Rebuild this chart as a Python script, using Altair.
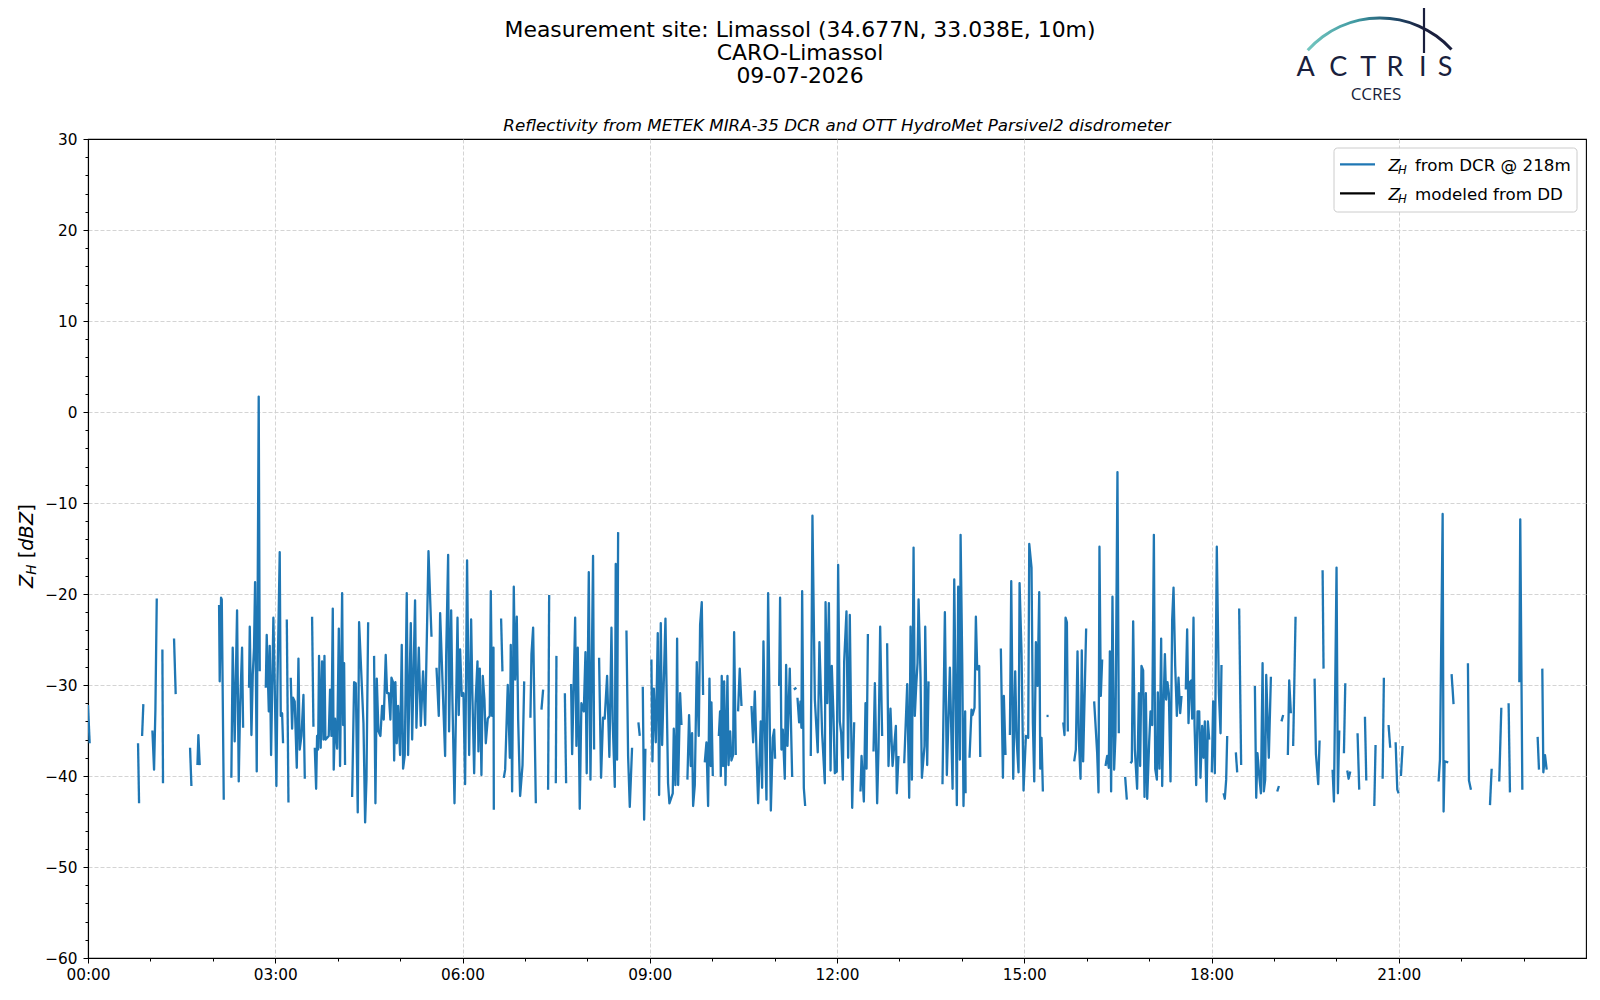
import altair as alt
import pandas as pd

# ---- data: (minutes after 00:00 UTC, Z_H in dBZ); None marks a gap in the record ----
block_00_04 = [
    (0.0, -32.2), (1.6, -36.4), None,
    (48.1, -36.4), (49.1, -43.0), None,
    (52.0, -35.6), (53.2, -32.1), None,
    (61.9, -35.0), (63.5, -39.3), (64.8, -32.7), (66.1, -20.5), None,
    (71.5, -26.1), (72.1, -40.8), None,
    (82.7, -24.9), (84.3, -31.0), None,
    (98.1, -36.9), (99.4, -41.1), None,
    (105.2, -38.8), (106.1, -35.5), (107.4, -38.8), None,
    (126.0, -21.2), (126.6, -29.6), (127.9, -20.4), (128.6, -20.6), (130.5, -42.6), None,
    (137.8, -40.2), (139.1, -25.9), (141.0, -36.2), (143.3, -21.8), (144.9, -40.6), (146.2, -32.5),
    (148.1, -25.9), (149.1, -34.7), None,
    (154.8, -30.3), (155.5, -23.6), (157.1, -35.5), (158.4, -28.8), (159.6, -25.9), (160.6, -18.7),
    (162.2, -39.5), (164.1, 1.7), (165.1, -28.5), None,
    (170.9, -30.3), (171.8, -24.5), (173.8, -32.9), (174.7, -25.7), (176.0, -37.7), (178.2, -22.6),
    (179.5, -30.0), (181.1, -41.1), (182.1, -30.0), (184.3, -15.4), (185.3, -33.4), (186.6, -33.1),
    (187.5, -36.4), None,
    (191.1, -22.8), (192.7, -42.9), None,
    (194.9, -29.2), (196.2, -34.8), (197.1, -31.4), (198.7, -31.8), (200.7, -39.1), (202.3, -27.1),
    (203.5, -37.1), (205.2, -35.6), (207.1, -31.1), (208.4, -40.3), None,
    (215.4, -22.5), (216.7, -34.6), None,
    (218.0, -36.9), (219.3, -41.4), (220.2, -35.6), (221.2, -37.1), (222.1, -26.8), (223.7, -36.9),
    (225.0, -27.4), (226.3, -36.0), (227.3, -26.8), (228.2, -36.0), (231.4, -35.6), (232.7, -30.5),
    (234.0, -35.6), (235.3, -21.6), (236.2, -39.3), (237.5, -33.7), (239.5, -37.0), (241.1, -23.8),
    (242.3, -38.9), (244.3, -19.9), (245.2, -34.4), (246.2, -27.6), (247.1, -38.8),
]

block_04_08 = [
    (253.9, -42.3), (255.8, -29.7), (257.4, -29.8), (259.3, -44.0), (260.6, -23.1), (264.8, -34.2),
    (266.4, -45.1), (267.7, -40.3), (269.3, -23.1), None,
    (275.0, -26.8), (276.3, -43.0), (277.6, -29.3), (279.2, -35.1), (281.1, -35.6), (282.7, -32.3),
    (284.3, -33.8), (286.2, -26.7), (287.5, -30.9), (289.1, -30.9), (290.7, -33.8), (291.7, -29.2),
    (293.3, -29.7), (294.3, -38.3), (295.5, -29.7), (296.8, -36.4), (298.1, -32.3), (300.0, -37.7),
    (301.6, -25.6), (302.9, -39.2), (304.5, -37.7), (306.4, -19.9), (307.7, -37.7), (310.3, -23.2),
    (311.6, -36.0), (314.4, -20.7), (315.7, -34.7), (318.0, -25.9), (319.9, -34.5), (322.1, -28.5),
    (324.1, -34.4), (327.3, -15.3), (330.2, -24.7), None,
    (335.0, -28.1), (337.2, -33.4), (338.5, -22.1), (341.7, -32.7), (343.3, -37.8), (344.3, -26.8),
    (346.2, -15.7), (347.1, -35.1), (349.1, -21.8), (350.3, -31.6), (352.3, -43.0), (355.2, -22.6),
    (356.4, -33.3), (357.7, -26.1), (359.3, -31.2), (360.9, -30.9), (362.5, -40.9), (364.4, -16.3),
    (366.4, -37.7), (368.3, -22.8), (369.6, -31.6), (371.2, -39.7), (372.5, -32.0), (374.4, -27.4),
    (375.3, -37.3), (376.6, -28.2), (378.2, -39.9), (379.5, -29.0), (381.1, -31.6), (382.4, -36.4),
    (384.3, -33.7), (386.2, -33.4), (387.2, -19.7), (388.5, -33.4), (389.8, -25.9), (390.1, -43.7), None,
    (397.1, -22.7), (398.4, -28.5), None,
    (399.7, -40.2), (401.0, -39.3), (403.5, -30.0), (405.5, -38.0), (406.4, -25.6), (407.7, -41.7),
    (409.3, -19.2), (410.6, -29.4), (412.2, -22.5), (413.5, -33.8), (415.4, -42.2), (417.7, -38.8),
    (419.3, -29.6), None,
    (425.3, -33.6), (426.3, -26.6), (427.9, -23.7), (430.5, -43.0), None,
    (435.9, -32.7), (437.5, -30.5), None,
    (442.3, -41.5), (443.3, -20.1), None,
    (449.7, -40.8), (450.3, -26.8), None,
    (458.4, -30.9), (459.6, -40.8), None,
    (464.4, -29.9), (465.4, -37.6), (468.3, -22.6), (469.5, -36.7), (470.8, -25.9), (472.7, -43.6),
    (474.3, -32.0), (476.6, -32.9), (478.2, -26.4), (479.4, -39.7), (481.4, -17.6), (483.0, -40.4),
    (485.5, -15.8), (486.5, -37.1),
]

block_08_12 = [
    (491.3, -27.0), (493.2, -40.2), (495.1, -33.6), (496.7, -33.7), (499.0, -29.0), (501.2, -37.9),
    (503.2, -23.7), (504.4, -34.1), (506.4, -41.2), (507.3, -16.7), (508.6, -38.2), (509.6, -13.2), None,
    (517.6, -24.0), (519.2, -37.8), (520.8, -43.4), (523.0, -36.9), None,
    (529.1, -34.1), (530.4, -35.6), None,
    (533.3, -30.2), (534.6, -44.8), (535.8, -37.0), None,
    (541.6, -27.2), (542.6, -38.4), (543.9, -30.4), (545.8, -36.3), (547.7, -24.3), (549.0, -42.1),
    (550.6, -23.2), (551.9, -36.6), (555.1, -22.7), (557.6, -40.8), (558.9, -43.0), (562.1, -41.9),
    (563.1, -34.8), (564.7, -41.0), (565.7, -34.5), (566.3, -24.9), (567.3, -41.0), (569.2, -30.9),
    (570.5, -34.4), None,
    (576.2, -40.4), (577.8, -33.3), (579.4, -38.9), (580.7, -35.3), (581.7, -43.3), (583.3, -41.0),
    (585.2, -27.5), (587.1, -35.6), (588.4, -23.4), (590.0, -20.9), (591.3, -31.1), None,
    (592.9, -38.5), (594.5, -36.3), (596.1, -43.3), (597.4, -29.3), (598.7, -38.9), (599.3, -31.9),
    (600.6, -40.0), None,
    (606.4, -35.6), (607.6, -32.9), (608.3, -40.0), (609.2, -29.0), (610.5, -38.9), (611.5, -29.6),
    (612.8, -41.0), (614.7, -29.0), (615.7, -38.8), (617.3, -35.1), (618.5, -38.3), (620.1, -37.7),
    (621.1, -24.2), (622.7, -37.7), None,
    (624.9, -32.9), (626.5, -28.2), (628.2, -32.3), None,
    (637.8, -32.3), (639.4, -36.3), (641.0, -30.7), (642.6, -37.3), (644.2, -43.0), (646.7, -34.0),
    (648.0, -41.3), (649.3, -25.2), (650.6, -34.4), (652.2, -42.6), (653.8, -19.9), (656.4, -43.8),
    (658.3, -35.8), (659.6, -34.9), (660.5, -38.1), None,
    (664.4, -30.1), (665.3, -20.4), (666.6, -37.1), (667.9, -34.9), (669.8, -40.3), (671.1, -27.8),
    (672.4, -36.7), (674.6, -28.2), (676.9, -40.1), None,
    (678.5, -30.5), (681.0, -30.3), None,
    (682.0, -31.4), (683.6, -34.1), (684.9, -31.8), (685.8, -34.7), (686.5, -19.7), (688.1, -41.3),
    (689.4, -43.3),
]

block_12_16 = [
    (694.8, -37.8), (696.4, -11.4), (698.7, -31.6), (701.5, -37.4), (703.1, -25.3), (705.7, -35.3),
    (708.3, -40.8), (709.0, -20.9), (710.6, -32.0), (712.2, -21.0), (713.8, -39.4), (715.0, -27.9),
    (716.6, -33.3), (717.9, -39.7), (719.8, -39.5), (721.1, -16.8), (722.7, -34.0), (724.0, -35.3),
    (725.6, -40.4), (726.9, -27.4), (729.1, -21.9), (730.7, -38.0), (732.3, -22.3), (734.6, -43.5),
    (736.5, -34.1), None,
    (742.6, -41.7), (743.6, -37.8), (745.8, -42.8), (747.4, -32.0), (748.4, -39.2), (749.7, -24.4), None,
    (755.1, -37.3), (756.4, -29.8), (758.6, -43.0), (759.9, -37.0), (761.5, -23.6), (763.4, -35.6), None,
    (768.2, -25.4), (769.5, -38.9), (771.4, -32.6), (773.4, -38.9), (776.6, -34.5), (777.5, -41.9),
    (779.1, -37.8), None,
    (784.6, -38.6), (787.5, -29.9), (789.4, -42.4), (790.7, -23.6), (792.0, -40.4), (793.6, -14.9),
    (794.8, -33.4), (796.1, -30.2), (797.4, -27.6), (798.4, -20.6), (800.3, -29.1), (801.6, -40.2),
    (804.1, -36.7), (804.8, -23.6), (806.7, -38.8), (808.0, -29.6), None,
    (821.4, -40.9), (823.7, -22.0), (825.6, -39.9), (828.5, -28.1), (831.1, -41.4), (832.7, -18.4),
    (835.2, -43.2), (836.5, -19.2), (838.1, -38.2), (838.8, -13.5), (840.4, -27.6), (841.6, -43.3),
    (843.2, -32.9), (843.6, -41.9), None,
    (847.4, -38.0), (849.3, -32.7), (850.3, -33.3), (852.2, -32.5), (853.5, -22.5), (854.8, -28.3),
    (856.7, -27.9), (857.7, -37.9), None,
    (877.5, -26.0), (879.5, -40.2), (880.4, -31.2), (882.0, -37.7), None,
    (886.2, -35.5), (887.5, -18.6), (889.4, -40.3), (891.3, -28.5), (892.6, -35.8), (894.5, -39.6),
    (895.5, -18.8), (897.4, -26.5), (899.3, -41.6), (901.6, -35.6), (903.8, -35.8), (904.8, -14.5),
    (907.0, -17.1), (908.3, -34.2), (909.6, -40.6), (911.2, -25.3), (912.8, -30.1), (914.4, -19.8),
    (915.4, -39.2), (916.6, -35.8), (917.9, -41.7), None,
    (921.4, -33.4), (923.4, -33.4), None,
    (937.5, -34.1), (938.7, -35.5), (939.7, -22.6), (941.0, -23.1), (941.9, -35.1),
]

block_16_20 = [
    (948.0, -38.4), (949.6, -37.1), (951.2, -26.3), (952.5, -36.0), (954.1, -40.3), (955.3, -26.2),
    (956.6, -38.4), (959.5, -23.8), None,
    (967.2, -31.8), (970.1, -37.5), (971.4, -41.8), (972.3, -14.8), (973.6, -31.2), (974.9, -27.2), None,
    (978.1, -38.9), (979.7, -37.8), (981.3, -39.1), (982.3, -26.3), (983.5, -41.7), (984.8, -20.3),
    (986.4, -39.3), (987.7, -35.5), (989.6, -6.6), (990.9, -35.3), None,
    (997.0, -40.1), (998.6, -42.6), None,
    (1002.1, -38.6), (1003.4, -38.4), (1004.7, -23.0), (1006.3, -37.1), (1008.5, -41.4), (1010.2, -30.9),
    (1011.4, -38.9), (1012.7, -27.9), (1014.3, -28.4), (1015.6, -42.3), (1016.9, -30.9), (1018.2, -42.5),
    (1020.1, -36.2), (1021.4, -32.9), (1023.0, -34.4), (1024.6, -13.5), (1025.9, -39.2), (1027.5, -40.4),
    (1028.4, -30.8), (1030.0, -39.2), (1031.6, -24.9), (1032.6, -41.1), (1033.9, -32.3), (1035.2, -26.6),
    (1036.4, -31.6), (1037.7, -29.7), (1039.0, -30.9), (1040.6, -40.6), (1042.2, -22.8), (1043.5, -19.3),
    (1045.1, -27.9), (1046.7, -33.4), (1048.3, -29.2), (1049.9, -33.1), (1051.2, -31.2), None,
    (1055.3, -30.5), (1056.6, -23.9), (1057.9, -34.2), (1059.2, -29.7), (1060.5, -29.5), (1061.4, -33.7),
    (1062.7, -22.6), (1063.7, -34.4), (1065.3, -41.0), (1066.6, -32.9), (1068.2, -32.9), (1069.4, -40.2),
    (1071.0, -34.5), (1072.3, -38.0), (1073.6, -34.0), (1075.2, -42.8), (1076.5, -34.0), (1077.8, -36.0), None,
    (1080.3, -39.6), (1081.6, -31.8), (1083.2, -39.7), (1085.1, -14.8), (1087.1, -30.9), (1088.7, -35.3),
    (1089.6, -27.8), None,
    (1091.6, -41.9), (1092.8, -42.5), (1094.1, -40.4), (1095.1, -35.6), None,
    (1103.4, -37.4), (1104.7, -39.6), None,
    (1106.6, -21.6), (1108.5, -38.8), None,
    (1121.7, -30.1), (1123.0, -42.4), (1124.2, -37.5), (1125.9, -40.0), (1127.5, -41.9), (1129.1, -27.6),
    (1130.3, -41.7), (1131.6, -40.4), (1132.6, -28.9), (1135.1, -38.0), (1137.1, -29.1), None,
    (1143.2, -41.7), (1144.8, -41.1), None,
    (1147.3, -34.0), (1148.9, -33.3), None,
    (1153.4, -37.7), (1154.7, -29.5), (1156.3, -33.1), None,
    (1158.5, -36.7), (1160.8, -22.5),
]

block_20_24 = [
    (1179.1, -29.3), (1180.4, -37.6), (1182.6, -40.9), (1183.9, -36.1), None,
    (1186.8, -17.4), (1187.7, -28.2), None,
    (1196.4, -39.3), (1197.7, -42.8), (1200.2, -17.1), (1201.5, -41.9), (1202.8, -35.0), None,
    (1207.3, -37.5), (1208.6, -29.8), None,
    (1210.5, -39.4), (1211.8, -40.3), (1213.4, -39.5), None,
    (1220.4, -35.3), (1222.0, -41.5), None,
    (1227.5, -33.5), (1228.8, -40.5), None,
    (1236.5, -43.3), (1237.7, -36.6), None,
    (1244.5, -40.3), (1245.7, -29.2), None,
    (1250.2, -34.4), (1251.8, -36.9), None,
    (1257.0, -36.3), (1258.6, -41.5), (1259.9, -41.9), None,
    (1262.1, -40.0), (1263.7, -36.7), None,
    (1298.3, -40.6), (1299.6, -38.2), (1302.2, -11.2), (1303.1, -43.9), (1304.1, -38.4), (1307.6, -38.5), None,
    (1310.8, -28.8), (1312.7, -32.1), None,
    (1326.5, -27.6), (1327.5, -40.5), (1329.4, -41.5), None,
    (1347.7, -43.2), (1349.3, -39.2), None,
    (1356.6, -40.6), (1358.6, -32.5), None,
    (1365.6, -32.0), (1366.9, -41.8), None,
    (1375.9, -29.7), (1376.8, -11.8), (1378.8, -41.5), None,
    (1393.5, -35.7), (1394.8, -39.3), None,
    (1398.0, -28.2), (1399.0, -39.6), (1400.6, -37.7), (1402.2, -39.3),
]

x_tick_values = list(range(0, 1381, 60))     # hourly ticks, labelled every 3 h
y_tick_values = list(range(-60, 31, 2))      # 2 dBZ minor ticks, labelled every 10
logo_letters = ["A", "C", "T", "R", "I", "S"]
logo_letter_px = [1217.7, 1250.3, 1280.3, 1307.0, 1334.7, 1357.0]

# ---- build table ----
rows = []
seg = 0
for blk in [block_00_04, block_04_08, block_08_12, block_12_16, block_16_20, block_20_24]:
    for p in blk:
        if p is None:
            seg += 1
            continue
        rows.append({"t": p[0], "v": p[1], "seg": seg})
    seg += 1
df = pd.DataFrame(rows)
one = pd.DataFrame({"k": [0]})

W, H = 1498, 819
FONT = "DejaVu Sans"
BLUE = "#1f77b4"

major_x = "datum.value % 180 === 0"
grid_x = "datum.value % 180 === 0 && datum.value > 0"
major_y = "datum.value % 10 === 0"
grid_y = "datum.value % 10 === 0 && datum.value > -60 && datum.value < 30"

x_axis = alt.Axis(
    values=x_tick_values,
    labelExpr="datum.value % 180 === 0 ? ((datum.value < 600 ? '0' : '') + floor(datum.value / 60) + ':00') : ''",
    title=None,
    grid=True, gridColor="#cfcfcf", gridDash=[4, 2], gridWidth=0.9,
    gridOpacity={"condition": {"test": grid_x, "value": 1}, "value": 0},
    tickSize={"condition": {"test": major_x, "value": 5}, "value": 3},
    tickColor="black", tickWidth=1,
    labelFont=FONT, labelFontSize=15.3, labelColor="black", labelPadding=4,
    labelOverlap=False, labelFlush=False,
    domainColor="black", domainWidth=1.1,
)
y_axis = alt.Axis(
    values=y_tick_values,
    labelExpr="datum.value % 10 === 0 ? replace(format(datum.value, 'd'), '-', '\u2212') : ''",
    title=None,
    grid=True, gridColor="#cfcfcf", gridDash=[4, 2], gridWidth=0.9,
    gridOpacity={"condition": {"test": grid_y, "value": 1}, "value": 0},
    tickSize={"condition": {"test": major_y, "value": 5}, "value": 3},
    tickColor="black", tickWidth=1,
    labelFont=FONT, labelFontSize=15.3, labelColor="black", labelPadding=6,
    labelOverlap=False, labelFlush=False,
    domainColor="black", domainWidth=1.1,
)

line = alt.Chart(df).mark_line(
    color=BLUE, strokeWidth=2.3, strokeJoin="round", strokeCap="butt", clip=True
).encode(
    x=alt.X("t:Q", scale=alt.Scale(domain=[0, 1440], nice=False, zero=False), axis=x_axis),
    y=alt.Y("v:Q", scale=alt.Scale(domain=[-60, 30], nice=False, zero=False), axis=y_axis),
    detail="seg:N",
    order="t:Q",
)


def txt(text, x, y, size, style="normal", align="left", angle=0, color="black", font=FONT, weight="normal"):
    return alt.Chart(one).mark_text(
        text=text, fontSize=size, fontStyle=style, fontWeight=weight, align=align,
        baseline="alphabetic", angle=angle, color=color, font=font,
    ).encode(x=alt.value(x), y=alt.value(y))


# titles
titles = [
    txt("Measurement site: Limassol (34.677N, 33.038E, 10m)", 712, -102.5, 21.9, align="center"),
    txt("CARO-Limassol", 712, -79.5, 21.9, align="center"),
    txt("09-07-2026", 712, -56.5, 21.9, align="center"),
    txt("Reflectivity from METEK MIRA-35 DCR and OTT HydroMet Parsivel2 disdrometer",
        W / 2, -8.5, 16.7, style="italic", align="center"),
]

# y axis title  Z_H [dBZ]
ytitle = [
    txt("Z", -55.5, 449, 19.4, style="italic", angle=270),
    txt("H", -52.0, 435.7, 13.6, style="italic", angle=270),
    txt("[", -55.5, 419.3, 19.4, angle=270),
    txt("dBZ", -55.5, 411.7, 19.4, style="italic", angle=270),
    txt("]", -55.5, 372.8, 19.4, angle=270),
]

# legend
legend_box = alt.Chart(one).mark_rect(
    fill="white", fillOpacity=0.8, stroke="#cccccc", strokeWidth=1, cornerRadius=3.5
).encode(x=alt.value(1246), x2=alt.value(1489), y=alt.value(9), y2=alt.value(73))
legend_items = [legend_box]
for i, (col, label) in enumerate([(BLUE, "from DCR @ 218m"), ("black", "modeled from DD")]):
    yy = 25.3 + 29 * i
    legend_items.append(
        alt.Chart(one).mark_rule(color=col, strokeWidth=2.3).encode(
            x=alt.value(1252), x2=alt.value(1287), y=alt.value(yy)
        )
    )
    legend_items.append(txt("Z", 1300.5, 32 + 29 * i, 16.7, style="italic"))
    legend_items.append(txt("H", 1310.0, 35.0 + 29 * i, 11.7, style="italic"))
    legend_items.append(txt(label, 1327, 32 + 29 * i, 16.7))

# logo
NAVY = "#1a1f3d"
arc_grad = alt.LinearGradient(
    gradient="linear", x1=0, x2=1, y1=0, y2=0,
    stops=[
        alt.GradientStop(color="#74c7c0", offset=0),
        alt.GradientStop(color="#3e97a0", offset=0.35),
        alt.GradientStop(color="#1f4a6a", offset=0.6),
        alt.GradientStop(color=NAVY, offset=0.8),
        alt.GradientStop(color=NAVY, offset=1),
    ],
)
logo_arc = alt.Chart(one).mark_arc(fill=arc_grad).encode(
    x=alt.value(1292), y=alt.value(-24.3),
    theta=alt.value(5.44), theta2=alt.value(7.114),
    radius=alt.value(98.3), radius2=alt.value(95.3),
)
logo_bar = alt.Chart(one).mark_rule(color=NAVY, strokeWidth=2.2).encode(
    x=alt.value(1336), y=alt.value(-138), y2=alt.value(-86)
)
letters_df = pd.DataFrame({"letter": logo_letters, "px": logo_letter_px})
logo_text = alt.Chart(letters_df).mark_text(
    fontSize=27, font="Lato", color=NAVY, baseline="alphabetic", align="center"
).encode(
    x=alt.X("px:Q", scale=None, axis=None),
    y=alt.value(-63.5),
    text="letter:N",
)
logo_sub = txt("CCRES", 1288, -39.5, 17, align="center", color=NAVY, font="Open Sans")

chart = alt.layer(
    line, *titles, *ytitle, *legend_items, logo_arc, logo_bar, logo_text, logo_sub
).properties(
    width=W, height=H,
    autosize=alt.AutoSizeParams(type="none"),
    padding={"left": 80, "top": 131, "right": 6, "bottom": 30},
    background="white",
).configure_view(
    stroke="black", strokeWidth=1.1
)

chart.save("out.html", embed_options={"renderer": "svg", "actions": False})
